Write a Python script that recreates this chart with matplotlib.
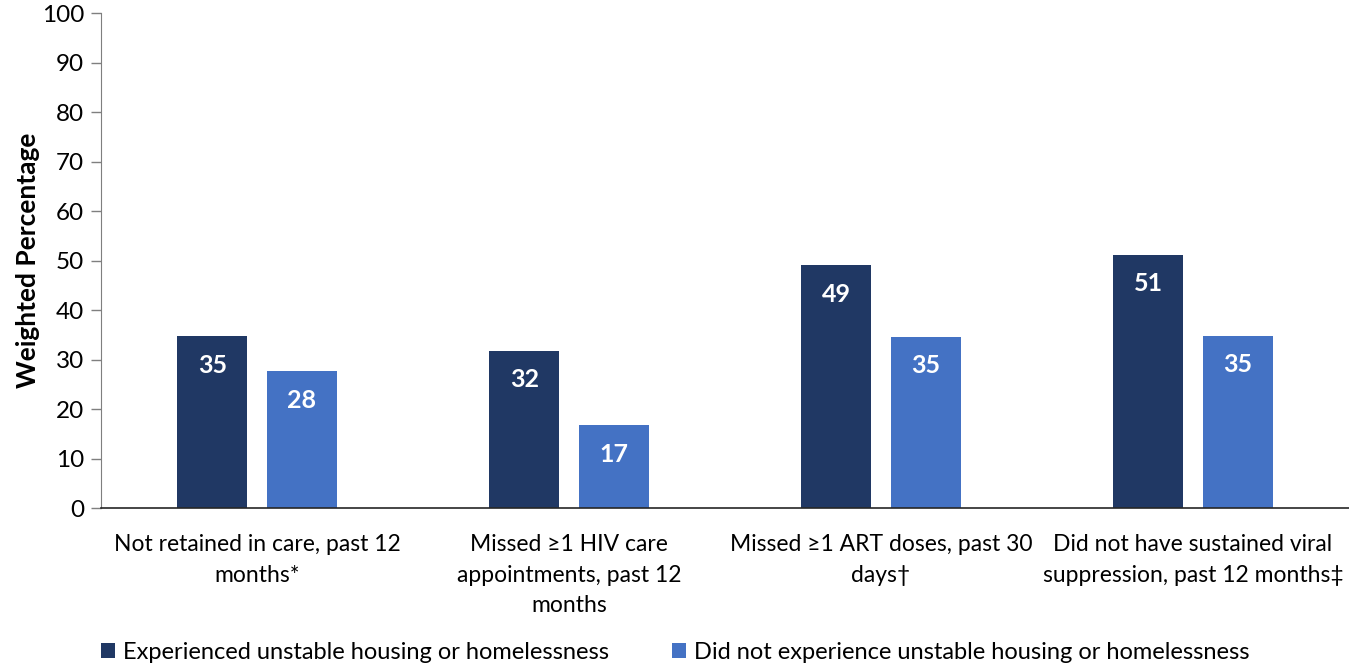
import numpy as np
import matplotlib.pyplot as plt

categories = ['Not retained in care, past 12\nmonths*',
              'Missed \u22651 HIV care\nappointments, past 12\nmonths',
              'Missed \u22651 ART doses, past 30\ndays\u2020',
              'Did not have sustained viral\nsuppression, past 12 months\u2021']
unstable = [34.7, 31.8, 49.1, 51.2]
stable = [27.6, 16.8, 34.6, 34.8]
unstable_labels = ['35', '32', '49', '51']
stable_labels = ['28', '17', '35', '35']
series_names = ['Experienced unstable housing or homelessness',
                'Did not experience unstable housing or homelessness']

plt.rcParams['font.family'] = ['Lato', 'DejaVu Sans']
dark = '#203864'
light = '#4472C4'

fig = plt.figure(figsize=(13.49, 6.64), dpi=100)
ax = fig.add_axes([0.0749, 0.2349, 0.9251, 0.7455])

x = np.arange(len(categories))
w = 0.224
off = 0.143
b1 = ax.bar(x - off, unstable, w, color=dark, label=series_names[0])
b2 = ax.bar(x + off, stable, w, color=light, label=series_names[1])

for bars, labs in ((b1, unstable_labels), (b2, stable_labels)):
    for b, t in zip(bars, labs):
        ax.text(b.get_x() + b.get_width() / 2, b.get_height() - 5.9, t,
                ha='center', va='center', color='white',
                fontsize=18, fontweight='bold')

ax.set_xlim(-0.5, len(categories) - 0.5)
ax.set_ylim(0, 100)
ax.set_yticks(range(0, 101, 10))
ax.set_xticks(x)
ax.set_xticklabels(categories, fontsize=16.5, linespacing=1.55)
ax.tick_params(axis='x', length=0, pad=19)
ax.tick_params(axis='y', labelsize=17.5, length=7, width=1, color='#7f7f7f', pad=5)
fig.text(28 / 1349, 0.608, 'Weighted Percentage', rotation=90, ha='center',
         va='center', fontsize=19, fontweight='bold')

for s in ['top', 'right']:
    ax.spines[s].set_visible(False)
ax.spines['left'].set_color('#7f7f7f')
ax.spines['bottom'].set_color('#262626')
ax.spines['bottom'].set_linewidth(1.2)

fig.legend(handles=[b1, b2], loc='lower left', bbox_to_anchor=(0.059, -0.03),
           ncol=2, frameon=False, fontsize=17, handlelength=0.6,
           handleheight=0.6, handletextpad=0.35, columnspacing=2.65)

fig.savefig('out.png', dpi=100)
